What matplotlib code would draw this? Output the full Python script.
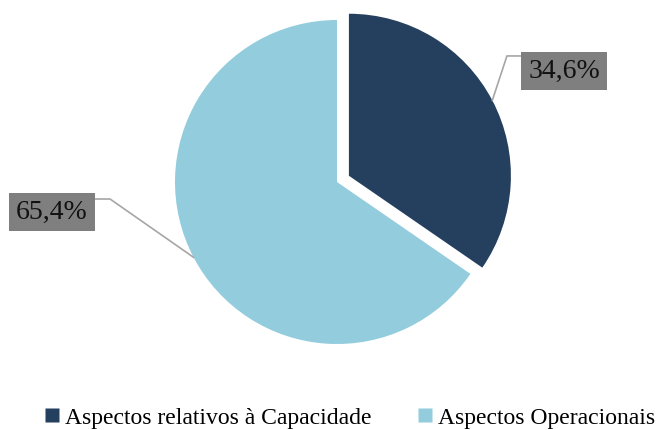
import numpy as np
import matplotlib.pyplot as plt

# Dados do gráfico
categorias = ['Aspectos relativos à Capacidade', 'Aspectos Operacionais']
percentuais = [34.6, 65.4]
cores = ['#253F5F', '#93CDDD']
rotulos = ['34,6%', '65,4%']

plt.rcParams['font.family'] = ['Liberation Serif', 'DejaVu Serif']

fig = plt.figure(figsize=(6.56, 4.3), dpi=100)
ax = fig.add_axes([0, 0, 1, 1])

explode = [0.083, 0]
wedges, _ = ax.pie(percentuais, colors=cores, startangle=90, counterclock=False,
                   explode=explode, radius=1.0, wedgeprops=dict(linewidth=0))

# limites ajustados depois do pie (que redefine os eixos)
escala = 162.0  # pixels por unidade de raio
cx, cy = 337.0, 182.0
ax.set_aspect('auto')
ax.set_xlim(-cx / escala, (656 - cx) / escala)
ax.set_ylim(-(430 - cy) / escala, cy / escala)
ax.axis('off')

# posição das caixas de rótulo e do cotovelo da linha de chamada
pos_rotulo = [(1.401, 0.685), (-1.759, -0.185)]
cotovelo = [(1.049, 0.778), (-1.401, -0.105)]

for w, exp, txt, (lx, ly), (ex, ey) in zip(wedges, explode, rotulos, pos_rotulo, cotovelo):
    ang = np.deg2rad((w.theta1 + w.theta2) / 2)
    ax_, ay_ = np.cos(ang) * (1 + exp), np.sin(ang) * (1 + exp)
    ax.plot([ax_, ex, lx], [ay_, ey, ey], color='#A6A6A6', lw=1.2, zorder=3,
            solid_joinstyle='miter')
    ax.text(lx, ly, txt, ha='center', va='center', fontsize=20, color='#111111',
            zorder=4,
            bbox=dict(boxstyle='square,pad=0.25', fc='#7F7F7F', ec='none'))

handles = [plt.Line2D([], [], marker='s', ls='none', markersize=10,
                      markerfacecolor=c, markeredgecolor='none') for c in cores]
fig.legend(handles, categorias, loc='center', bbox_to_anchor=(0.53, 0.028),
           ncol=2, frameon=False, fontsize=17, handletextpad=0.05,
           columnspacing=1.8, handlelength=1.0)

fig.savefig('out.png', dpi=100)
